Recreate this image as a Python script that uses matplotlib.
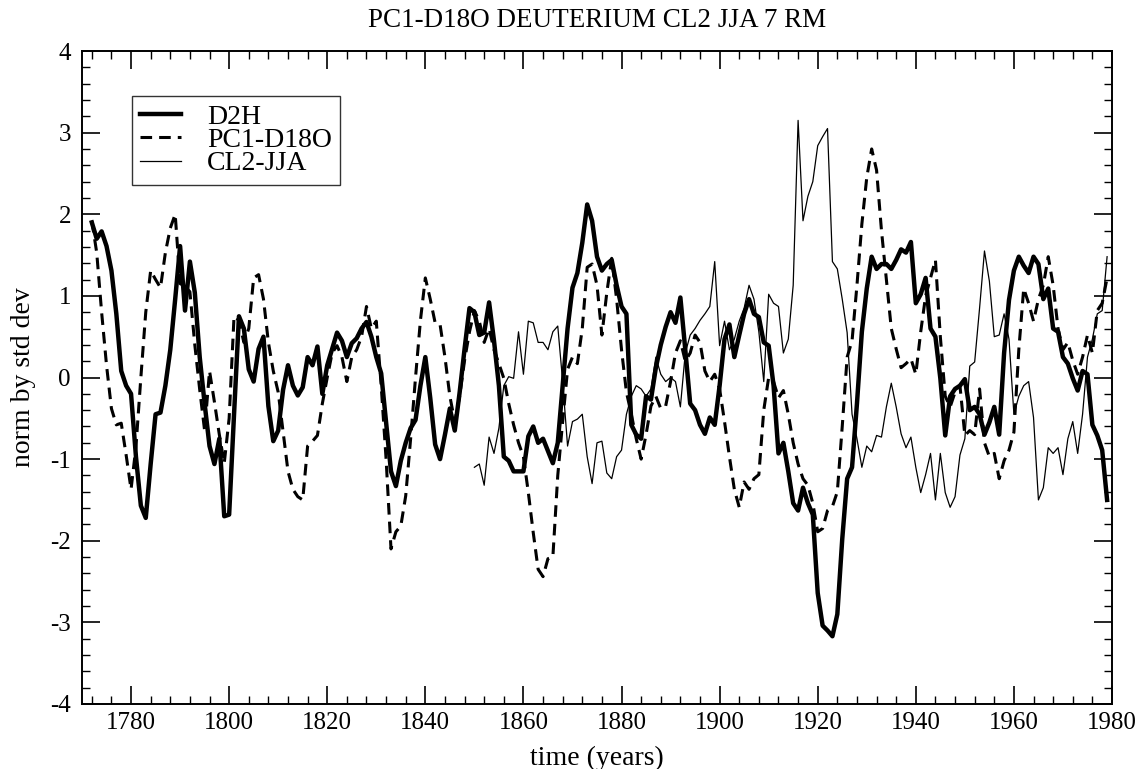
import numpy as np
import matplotlib
matplotlib.use("Agg")
from matplotlib import pyplot as plt
from matplotlib.ticker import MultipleLocator

plt.rcParams['font.family'] = ['Liberation Serif', 'DejaVu Serif']
plt.rcParams['axes.unicode_minus'] = False

# 7 yr running means, one value per year
years_long = np.arange(1772, 1980)
years_cl2 = np.arange(1850, 1980)

d2h = [
    1.90, 1.70, 1.79, 1.61, 1.31, 0.78, 0.08, -0.10,
    -0.20, -0.97, -1.57, -1.72, -1.06, -0.45, -0.43, -0.10, 0.34, 0.96,
    1.61, 0.82, 1.42, 1.04, 0.25, -0.32, -0.84, -1.06, -0.75, -1.70,
    -1.68, -0.45, 0.75, 0.60, 0.10, -0.05, 0.35, 0.50, -0.35, -0.78,
    -0.65, -0.15, 0.15, -0.10, -0.22, -0.12, 0.25, 0.15, 0.38, -0.20,
    0.15, 0.35, 0.55, 0.45, 0.25, 0.42, 0.48, 0.60, 0.68, 0.50,
    0.25, 0.05, -0.55, -1.15, -1.33, -1.02, -0.80, -0.62, -0.52, -0.10,
    0.25, -0.25, -0.82, -1.00, -0.70, -0.38, -0.65, -0.18, 0.35, 0.85,
    0.80, 0.52, 0.55, 0.92, 0.45, -0.10, -0.97, -1.02, -1.15, -1.15,
    -1.15, -0.72, -0.60, -0.80, -0.75, -0.90, -1.05, -0.80, -0.10, 0.60,
    1.10, 1.28, 1.65, 2.12, 1.92, 1.48, 1.31, 1.39, 1.44, 1.13,
    0.87, 0.78, -0.58, -0.70, -0.75, -0.23, -0.27, 0.12, 0.40, 0.62,
    0.80, 0.67, 0.98, 0.34, -0.32, -0.40, -0.58, -0.69, -0.49, -0.58,
    -0.10, 0.47, 0.65, 0.25, 0.52, 0.78, 0.96, 0.78, 0.74, 0.43,
    0.39, -0.10, -0.93, -0.80, -1.15, -1.54, -1.63, -1.35, -1.54, -1.68,
    -2.64, -3.04, -3.10, -3.17, -2.90, -1.98, -1.24, -1.10, -0.32, 0.56,
    1.09, 1.48, 1.33, 1.39, 1.39, 1.33, 1.44, 1.57, 1.53, 1.66,
    0.91, 1.02, 1.22, 0.60, 0.50, -0.01, -0.71, -0.23, -0.14, -0.10,
    -0.02, -0.40, -0.36, -0.45, -0.70, -0.55, -0.36, -0.70, 0.30, 0.95,
    1.31, 1.48, 1.37, 1.28, 1.48, 1.39, 0.96, 1.09, 0.60, 0.56,
    0.25, 0.17, -0.01, -0.16, 0.08, 0.04, -0.58, -0.71, -0.89, -1.50,
]

pc1_d18o = [
    1.92, 1.53, 0.80, 0.15, -0.38, -0.58, -0.56, -0.95,
    -1.37, -0.85, 0.00, 0.80, 1.31, 1.20, 1.10, 1.53, 1.83, 2.00,
    1.15, 1.12, 1.05, 0.40, -0.15, -0.65, 0.08, -0.30, -0.70, -1.05,
    -0.50, 0.75, 0.70, 0.43, 0.60, 1.22, 1.26, 0.96, 0.43, 0.08,
    -0.18, -0.67, -1.15, -1.37, -1.46, -1.50, -0.84, -0.78, -0.71, -0.32,
    0.00, 0.30, 0.39, 0.25, -0.05, 0.25, 0.34, 0.50, 0.87, 0.60,
    0.69, -0.10, -1.00, -2.10, -1.89, -1.82, -1.45, -0.75, 0.00, 0.70,
    1.22, 0.96, 0.67, 0.65, 0.25, -0.23, -0.54, -0.23, 0.21, 0.56,
    0.82, 0.69, 0.43, 0.60, 0.34, 0.17, -0.01, -0.32, -0.58, -0.80,
    -0.97, -1.41, -1.90, -2.35, -2.44, -2.22, -2.20, -1.20, -0.54, 0.10,
    0.25, 0.17, 0.60, 1.35, 1.39, 1.13, 0.52, 1.04, 1.46, 0.96,
    0.34, -0.18, -0.45, -0.75, -1.00, -0.70, -0.35, -0.23, -0.38, -0.35,
    -0.05, 0.30, 0.45, 0.20, 0.30, 0.52, 0.43, 0.08, -0.05, 0.04,
    -0.14, -0.54, -0.97, -1.37, -1.59, -1.28, -1.37, -1.24, -1.19, -0.40,
    0.00, -0.05, -0.25, -0.16, -0.45, -0.80, -1.06, -1.24, -1.32, -1.54,
    -1.89, -1.85, -1.63, -1.58, -1.40, -0.60, 0.25, 0.45, 1.13, 1.88,
    2.45, 2.80, 2.54, 1.80, 1.20, 0.60, 0.35, 0.12, 0.17, 0.23,
    0.04, 0.56, 1.00, 1.22, 1.44, 0.50, -0.23, -0.36, -0.18, -0.10,
    -0.71, -0.65, -0.70, -0.14, -0.80, -0.97, -0.93, -1.24, -1.02, -0.89,
    -0.67, 0.34, 1.09, 0.91, 0.69, 0.96, 1.13, 1.48, 1.13, 0.60,
    0.34, 0.43, 0.21, 0.04, 0.25, 0.52, 0.30, 0.82, 0.91, 1.22,
]

cl2_jja = [
    -1.10, -1.06, -1.32, -0.73, -0.93, -0.62, -0.10, 0.01, -0.01, 0.56,
    0.04, 0.69, 0.67, 0.43, 0.43, 0.34, 0.56, 0.63, -0.05, -0.84,
    -0.54, -0.51, -0.45, -0.97, -1.30, -0.80, -0.78, -1.17, -1.24, -0.97,
    -0.89, -0.45, -0.23, -0.10, -0.14, -0.23, -0.14, 0.25, 0.04, -0.05,
    0.00, -0.05, -0.36, 0.30, 0.52, 0.60, 0.70, 0.78, 0.87, 1.42,
    0.39, 0.69, 0.34, 0.47, 0.69, 0.85, 1.13, 0.96, 0.56, -0.05,
    1.02, 0.91, 0.87, 0.30, 0.47, 1.13, 3.15, 1.92, 2.22, 2.40,
    2.84, 2.95, 3.05, 1.42, 1.33, 0.96, 0.55, -0.45, -0.75, -1.10,
    -0.84, -0.91, -0.71, -0.73, -0.36, -0.07, -0.36, -0.69, -0.86, -0.73,
    -1.10, -1.41, -1.19, -0.93, -1.50, -0.93, -1.41, -1.59, -1.46, -0.95,
    -0.75, 0.14, 0.19, 0.85, 1.55, 1.18, 0.50, 0.52, 0.78, 0.47,
    -0.45, -0.23, -0.10, -0.05, -0.49, -1.50, -1.35, -0.86, -0.93, -0.86,
    -1.19, -0.75, -0.54, -0.93, -0.45, 0.25, 0.47, 0.78, 0.82, 1.48,
]

fig = plt.figure(figsize=(11.47, 7.69), dpi=100)
ax = fig.add_axes([82 / 1147, 1 - 704 / 769, 1030 / 1147, 653 / 769])

ax.plot(years_long, d2h, color="black", lw=3.2, label="D2H")
ax.plot(years_long, pc1_d18o, color="black", lw=2.2, ls=(0, (3.8, 2.3)), label="PC1-D18O")
ax.plot(years_cl2, cl2_jja, color="black", lw=0.9, label="CL2-JJA")

ax.set_xlim(1770, 1980)
ax.set_ylim(-4, 4)
ax.xaxis.set_major_locator(MultipleLocator(20))
ax.xaxis.set_minor_locator(MultipleLocator(4))
ax.yaxis.set_major_locator(MultipleLocator(1))
ax.yaxis.set_minor_locator(MultipleLocator(0.2))
ax.tick_params(which="both", direction="in", top=True, right=True, labelsize=18)
ax.tick_params(axis="x", pad=6)
ax.tick_params(axis="y", pad=8)
ax.tick_params(which="major", length=13, width=1.2)
ax.tick_params(which="minor", length=6, width=1.0)
for s in ax.spines.values():
    s.set_linewidth(1.4)

ax.set_xlabel("time (years)", fontsize=20, labelpad=8)
ax.set_ylabel("norm by std dev", fontsize=20, labelpad=10)
ax.set_title("PC1-D18O DEUTERIUM CL2 JJA 7 RM", fontsize=19.5, pad=17)

leg = ax.legend(loc="upper left", bbox_to_anchor=(0.0485, 0.931), borderaxespad=0,
                fontsize=20, frameon=True, fancybox=False, handlelength=1.45,
                borderpad=0.3, labelspacing=-0.08, handletextpad=0.95)
leg.get_frame().set_edgecolor("black")
leg.get_frame().set_linewidth(1.0)

fig.savefig("out.png", dpi=100)
